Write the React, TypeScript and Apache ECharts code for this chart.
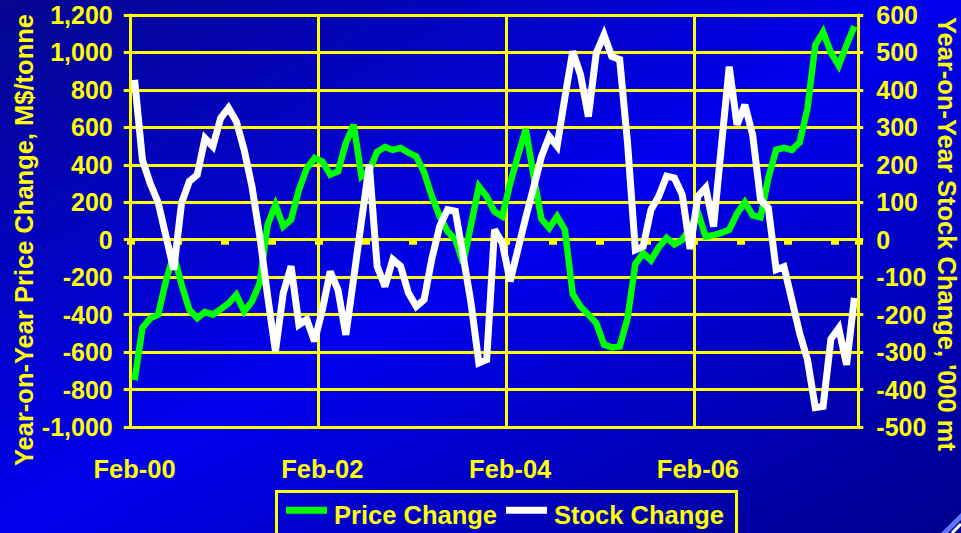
import React, { useEffect, useRef } from "react";
import * as echarts from "echarts";

// Monthly series starting Feb-00
const START_YEAR = 2000;
const START_MONTH = 1; // 0 = Jan
const MONTH_NAMES = ["Jan", "Feb", "Mar", "Apr", "May", "Jun", "Jul", "Aug", "Sep", "Oct", "Nov", "Dec"];
const LABEL_EVERY = 24; // one label every two years
const TICK_EVERY = 6; // half-year ticks on the zero line

// Year-on-year price change, M$/tonne (left axis)
const PRICE_CHANGE = [
  -750, -470, -420, -400, -220, -80, -240, -374, -418, -385,
  -400, -370, -340, -294, -383, -330, -230, 80, 187, 71,
  107, 267, 380, 436, 418, 347, 365, 516, 614, 338,
  370, 470, 495, 480, 490, 465, 445, 360, 231, 125,
  45, 0, -125, 80, 285, 231, 150, 125, 300, 450,
  590, 340, 110, 62, 125, 53, -290, -356, -400, -445,
  -560, -575, -570, -420, -130, -71, -110, -40, 10, -25,
  0, 60, 145, 16, 25, 37, 53, 140, 200, 130,
  120, 330, 480, 490, 480, 520, 700, 1040, 1110, 1000,
  930, 1040, 1140,
];

// Year-on-year stock change, '000 mt (right axis)
const STOCK_CHANGE = [
  427, 213, 150, 100, 10, -80, 98, 156, 173, 271,
  249, 325, 352, 316, 240, 142, 9, -150, -298, -142,
  -71, -227, -213, -271, -187, -85, -134, -254, -103, 50,
  200, -71, -125, -53, -71, -142, -178, -160, -50, 36,
  80, 76, -44, -169, -329, -320, 27, -9, -111, -25,
  60, 140, 222, 276, 250, 380, 503, 440, 329, 498,
  547, 489, 481, 260, -27, -18, 80, 116, 170, 165,
  120, -25, 116, 139, 35, 250, 462, 307, 360, 280,
  107, 85, -80, -72, -160, -249, -320, -448, -445, -265,
  -236, -334, -155,
];

const PRICE_AXIS = { min: -1000, max: 1200, step: 200 };
const STOCK_AXIS = { min: -500, max: 600, step: 100 };

const PRICE_TITLE = "Year-on-Year Price Change, M$/tonne";
const STOCK_TITLE = "Year-on-Year Stock Change, '000 mt";
const SERIES_NAMES = ["Price Change", "Stock Change"];
const SERIES_COLORS = ["#00ff00", "#ffffff"];

const YELLOW = "#ffff00";
const FONT = '"Liberation Sans", Arial, Helvetica, sans-serif';

function monthLabels(count: number): string[] {
  const out: string[] = [];
  for (let k = 0; k < count; k++) {
    const m = START_MONTH + k;
    const year = START_YEAR + Math.floor(m / 12);
    out.push(MONTH_NAMES[m % 12] + "-" + String(year % 100).padStart(2, "0"));
  }
  return out;
}

const CATEGORIES = monthLabels(PRICE_CHANGE.length);

export default function App() {
  const ref = useRef<HTMLDivElement>(null);

  useEffect(() => {
    if (!ref.current) return;
    const chart = echarts.init(ref.current, undefined, { renderer: "svg" });

    const labelStyle = {
      color: YELLOW,
      fontSize: 25,
      fontWeight: "bold" as const,
      fontFamily: FONT,
    };
    const titleStyle = {
      fill: YELLOW,
      fontSize: 25.5,
      fontWeight: "bold",
      fontFamily: FONT,
    };

    // legend box drawn as graphics so swatch and text sit exactly
    const legendTop = 491.5;
    const swatchY = 506.8;
    const textY = 514.5;
    const legendItems = [
      { swatchX: 286, textX: 334 },
      { swatchX: 506, textX: 554 },
    ];

    chart.setOption({
      animation: false,
      backgroundColor: "transparent",
      grid: { left: 130.7, right: 102.7, top: 15, bottom: 106, containLabel: false },
      xAxis: [
        {
          type: "category",
          data: CATEGORIES,
          boundaryGap: true,
          position: "bottom",
          axisLine: { show: true, onZero: true, lineStyle: { color: YELLOW, width: 3 } },
          axisTick: {
            show: true,
            interval: (idx: number) => idx % TICK_EVERY === 0,
            length: 5,
            lineStyle: { color: YELLOW, width: 8 },
          },
          axisLabel: { show: false },
          splitLine: {
            show: true,
            interval: (idx: number) => idx % LABEL_EVERY === 0,
            lineStyle: { color: YELLOW, width: 3 },
          },
        },
        {
          type: "category",
          data: CATEGORIES,
          boundaryGap: true,
          position: "bottom",
          axisLine: { show: false, onZero: false },
          axisTick: { show: false },
          axisLabel: {
            ...labelStyle,
            fontSize: 25.5,
            interval: (idx: number) => idx % LABEL_EVERY === 0,
            margin: 29,
          },
          splitLine: { show: false },
        },
      ],
      yAxis: [
        {
          type: "value",
          position: "left",
          min: PRICE_AXIS.min,
          max: PRICE_AXIS.max,
          interval: PRICE_AXIS.step,
          axisLine: { show: true, lineStyle: { color: YELLOW, width: 3 } },
          axisTick: { show: true, length: 7, lineStyle: { color: YELLOW, width: 3 } },
          axisLabel: {
            ...labelStyle,
            margin: 18,
            padding: [6, 0, 0, 0],
            formatter: (v: number) => v.toLocaleString("en-US"),
          },
          splitLine: { show: true, lineStyle: { color: YELLOW, width: 3 } },
        },
        {
          type: "value",
          position: "right",
          min: STOCK_AXIS.min,
          max: STOCK_AXIS.max,
          interval: STOCK_AXIS.step,
          axisLine: { show: true, lineStyle: { color: YELLOW, width: 3 } },
          axisTick: { show: true, length: 5, lineStyle: { color: YELLOW, width: 3 } },
          axisLabel: { ...labelStyle, margin: 18, padding: [7, 0, 0, 0] },
          splitLine: { show: false },
        },
      ],
      series: [
        {
          name: SERIES_NAMES[0],
          type: "line",
          xAxisIndex: 0,
          yAxisIndex: 0,
          data: PRICE_CHANGE,
          symbol: "none",
          itemStyle: { color: SERIES_COLORS[0] },
          lineStyle: { color: SERIES_COLORS[0], width: 6.5, join: "miter", miterLimit: 3 },
          z: 3,
        },
        {
          name: SERIES_NAMES[1],
          type: "line",
          xAxisIndex: 0,
          yAxisIndex: 1,
          data: STOCK_CHANGE,
          symbol: "none",
          itemStyle: { color: SERIES_COLORS[1] },
          lineStyle: { color: SERIES_COLORS[1], width: 7, join: "miter", miterLimit: 3 },
          z: 4,
        },
      ],
      graphic: [
        {
          type: "text",
          x: 24,
          y: 240,
          rotation: Math.PI / 2,
          style: { ...titleStyle, text: PRICE_TITLE, align: "center", verticalAlign: "middle" },
        },
        {
          type: "text",
          x: 947,
          y: 234,
          rotation: -Math.PI / 2,
          style: { ...titleStyle, text: STOCK_TITLE, align: "center", verticalAlign: "middle" },
        },
        {
          type: "rect",
          shape: { x: 276.5, y: legendTop, width: 460, height: 80 },
          style: { fill: "none", stroke: YELLOW, lineWidth: 3 },
        },
        ...legendItems.flatMap((it, k) => [
          {
            type: "rect",
            shape: { x: it.swatchX, y: swatchY, width: 41, height: 7 },
            style: { fill: SERIES_COLORS[k] },
          },
          {
            type: "text",
            x: it.textX,
            y: textY,
            style: { ...titleStyle, text: SERIES_NAMES[k], align: "left", verticalAlign: "middle" },
          },
        ]),
        {
          type: "polygon",
          shape: { points: [[941, 533], [961, 513], [961, 520], [948, 533]] },
          style: { fill: "#5a78ff" },
        },
        {
          type: "line",
          shape: { x1: 952, y1: 533, x2: 961, y2: 524 },
          style: { stroke: "#ffffff", lineWidth: 3 },
        },
      ],
    });

    return () => chart.dispose();
  }, []);

  return (
    <div
      ref={ref}
      style={{
        position: "fixed",
        left: 0,
        top: 0,
        width: 961,
        height: 533,
        overflow: "hidden",
        background: "linear-gradient(to bottom right, #06068f 0%, #0000ee 50%, #00008c 100%)",
      }}
    />
  );
}
